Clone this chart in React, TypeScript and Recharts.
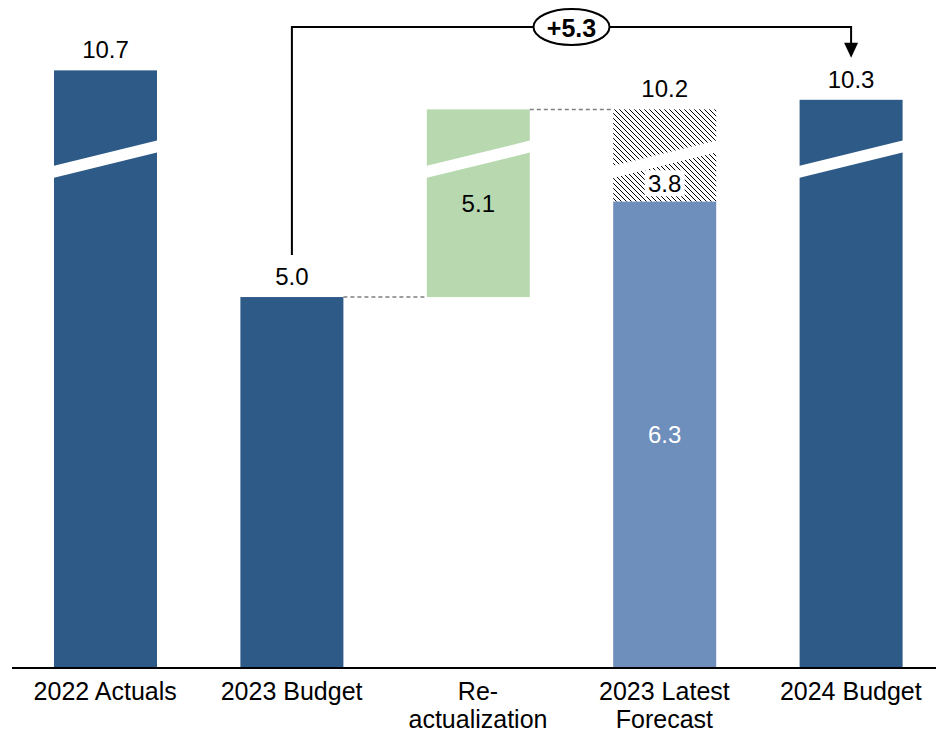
import { BarChart, Bar, XAxis, YAxis, Cell, LabelList } from "recharts"

const categories = ["2022 Actuals", "2023 Budget", "Re-actualization", "2023 Latest Forecast", "2024 Budget"]
const tickLines = [["2022 Actuals"], ["2023 Budget"], ["Re-", "actualization"], ["2023 Latest", "Forecast"], ["2024 Budget"]]

// waterfall pieces (real units)
const floorValues = [0, 0, 5.04, 0, 0]
const solidValues = [10.7, 5.04, 5.13, 6.34, 10.3]
const hatchValues = [0, 0, 0, 3.83, 0]
const showTotal = [true, true, false, true, true]
const showInner = [false, false, true, true, false]
const bridgeFrom = 1
const bridgeTo = 4

const COLORS = ["#2E5A87", "#2E5A87", "#B8D9B0", "#6E8EBB", "#2E5A87"]
const INNER_INK = ["#000", "#000", "#000", "#fff", "#000"]
const FONT = "'Liberation Sans', Arial, sans-serif"

// broken value axis: everything above BREAK_AT loses BREAK_GAP
const BREAK_AT = 7
const BREAK_GAP = 2.58
const shown = (v: number) => (v <= BREAK_AT ? v : Math.max(BREAK_AT, v - BREAK_GAP))
const SLASH_L = 6.82
const SLASH_R = 7.17
const SLASH_T = 12

const W = 944
const H = 735
const MARGIN = { top: 5.6, right: 0, bottom: 0, left: 12 }
const AXIS_H = 67
const Y_MAX = 9
const BAR = 103
const BAND = (W - MARGIN.left - MARGIN.right) / categories.length
const BRACKET_Y = 27

const realTop = categories.map((_, i) => floorValues[i] + solidValues[i] + hatchValues[i])

const data = categories.map((name, i) => {
  const lo = floorValues[i]
  const mid = lo + solidValues[i]
  const hi = mid + hatchValues[i]
  return { name, floor: shown(lo), solid: shown(mid) - shown(lo), hatch: shown(hi) - shown(mid) }
})

const fmt = (v: number) => v.toFixed(1)

function slashPoints(x: number, w: number, yOf: (v: number) => number) {
  const yl = yOf(SLASH_L)
  const yr = yOf(SLASH_R)
  return `${x - 1},${yl} ${x + w + 1},${yr} ${x + w + 1},${yr + SLASH_T} ${x - 1},${yl + SLASH_T}`
}

function segment(kind: "solid" | "hatch") {
  return (props: any) => {
    const { x, y, width, height, payload, fill } = props
    if (!height || height <= 0) return <g />
    const lo = kind === "solid" ? payload.floor : payload.floor + payload.solid
    const span = kind === "solid" ? payload.solid : payload.hatch
    const ppu = height / span
    const yOf = (v: number) => y + height - (v - lo) * ppu
    const broken = lo < SLASH_L && lo + span > SLASH_R
    return (
      <g>
        <rect x={x} y={y} width={width} height={height} fill={kind === "hatch" ? "url(#hatch)" : fill} />
        {broken && <polygon points={slashPoints(x, width, yOf)} fill="#fff" />}
      </g>
    )
  }
}

function box(props: any) {
  const vb = props.viewBox && props.viewBox.width !== undefined ? props.viewBox : props
  return { x: +vb.x, y: +vb.y, width: +vb.width, height: +vb.height }
}

function SolidLabel(props: any) {
  const i = props.index
  const { x, y, width, height } = box(props)
  const cx = x + width / 2
  const row = data[i]
  const parts: any[] = []

  if (showTotal[i] && hatchValues[i] === 0) {
    parts.push(
      <text key="t" x={cx} y={y - 12} textAnchor="middle" fontSize={24} fontFamily={FONT} fill="#000">
        {fmt(realTop[i])}
      </text>
    )
  }
  if (showInner[i]) {
    parts.push(
      <text key="in" x={cx} y={y + height / 2} dominantBaseline="central" textAnchor="middle" fontSize={24} fontFamily={FONT} fill={INNER_INK[i]}>
        {fmt(solidValues[i])}
      </text>
    )
  }
  // dashed connector to next bar
  const next = data[i + 1]
  if (next && hatchValues[i] === 0) {
    const top = row.floor + row.solid
    const nextTop = next.floor + next.solid + next.hatch
    if (Math.abs(next.floor - top) < 1e-6 || Math.abs(nextTop - top) < 1e-6) {
      parts.push(
        <line key="c" x1={x + width} x2={x + BAND} y1={y} y2={y} stroke="#7F7F7F" strokeWidth={1.5} strokeDasharray="4 3" />
      )
    }
  }
  // bracket from 2023 Budget to 2024 Budget
  if (i === bridgeTo) {
    const ppu = height / row.solid
    const yOf = (v: number) => y + height - (v - row.floor) * ppu
    const from = data[bridgeFrom]
    const x1 = cx - (bridgeTo - bridgeFrom) * BAND
    const y1 = yOf(from.floor + from.solid + from.hatch) - 42
    const tip = y - 42
    const mx = (x1 + cx) / 2
    parts.push(
      <g key="b">
        <polyline points={`${x1},${y1} ${x1},${BRACKET_Y} ${cx},${BRACKET_Y} ${cx},${tip - 14}`} fill="none" stroke="#000" strokeWidth={2} />
        <polygon points={`${cx - 7},${tip - 15} ${cx + 7},${tip - 15} ${cx},${tip}`} fill="#000" />
        <ellipse cx={mx} cy={BRACKET_Y} rx={38} ry={18} fill="#fff" stroke="#000" strokeWidth={2} />
        <text x={mx} y={BRACKET_Y + 1} dominantBaseline="central" textAnchor="middle" fontSize={25} fontWeight="bold" fontFamily={FONT} fill="#000">
          {"+" + fmt(realTop[bridgeTo] - realTop[bridgeFrom])}
        </text>
      </g>
    )
  }
  return <g>{parts}</g>
}

function HatchLabel(props: any) {
  const i = props.index
  if (!hatchValues[i]) return null
  const { x, y, width, height } = box(props)
  const cx = x + width / 2
  const row = data[i]
  const lo = row.floor + row.solid
  const ppu = height / row.hatch
  const yOf = (v: number) => y + height - (v - lo) * ppu
  const slashBottom = (yOf(SLASH_L) + yOf(SLASH_R)) / 2 + SLASH_T
  const cy = (slashBottom + y + height) / 2
  return (
    <g>
      {showTotal[i] && (
        <text x={cx} y={y - 12} textAnchor="middle" fontSize={24} fontFamily={FONT} fill="#000">
          {fmt(realTop[i])}
        </text>
      )}
      <rect x={cx - 20} y={cy - 13} width={40} height={26} fill="#fff" />
      <text x={cx} y={cy} dominantBaseline="central" textAnchor="middle" fontSize={24} fontFamily={FONT} fill="#000">
        {fmt(hatchValues[i])}
      </text>
    </g>
  )
}

function CategoryTick(props: any) {
  const { x, y, payload } = props
  const idx = categories.indexOf(payload.value)
  const lines = idx >= 0 ? tickLines[idx] : [String(payload.value)]
  return (
    <g>
      {lines.map((l, k) => (
        <text key={k} x={x} y={y + 32 + k * 28} textAnchor="middle" fontSize={25} fontFamily={FONT} fill="#000">
          {l}
        </text>
      ))}
    </g>
  )
}

export default function App() {
  return (
    <div style={{ position: "fixed", left: 0, top: 0, width: 936, height: H, overflow: "hidden", background: "#fff" }}>
      <BarChart width={W} height={H} data={data} margin={MARGIN} barSize={BAR}>
        <defs>
          <pattern id="hatch" width={5} height={5} patternUnits="userSpaceOnUse">
            <rect width={5} height={5} fill="#fff" />
            <path d="M-1,-1 L6,6 M-1,4 L1,6 M4,-1 L6,1" stroke="#000" strokeWidth={1.1} shapeRendering="crispEdges" />
          </pattern>
        </defs>
        <XAxis
          dataKey="name"
          height={AXIS_H}
          tickLine={false}
          tickSize={0}
          tickMargin={0}
          interval={0}
          axisLine={{ stroke: "#000", strokeWidth: 2 }}
          tick={<CategoryTick />}
        />
        <YAxis hide domain={[0, Y_MAX]} type="number" />
        <Bar dataKey="floor" stackId="w" fill="transparent" isAnimationActive={false} />
        <Bar dataKey="solid" stackId="w" shape={segment("solid")} isAnimationActive={false}>
          {data.map((_, i) => (
            <Cell key={`cell-${i}`} fill={COLORS[i]} />
          ))}
          <LabelList content={<SolidLabel />} />
        </Bar>
        <Bar dataKey="hatch" stackId="w" shape={segment("hatch")} isAnimationActive={false}>
          <LabelList content={<HatchLabel />} />
        </Bar>
      </BarChart>
    </div>
  )
}
